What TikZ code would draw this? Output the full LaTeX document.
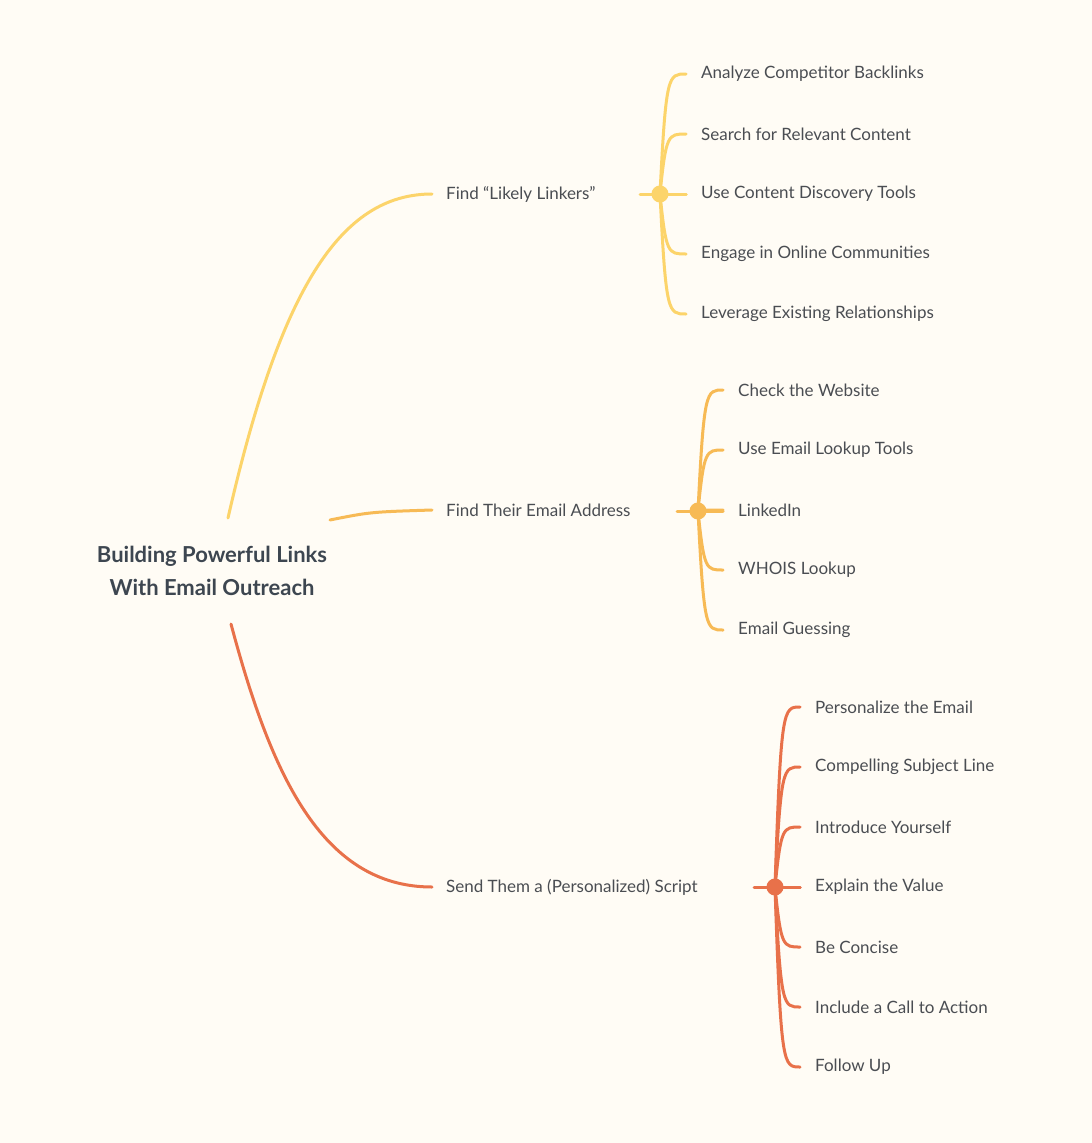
\documentclass[tikz,border=0pt]{standalone}
\usepackage{fontspec}
\setmainfont{Lato}
\definecolor{bg}{HTML}{FFFCF5}
\definecolor{cy}{HTML}{FCD46A}
\definecolor{co}{HTML}{F7BA55}
\definecolor{cr}{HTML}{E8714A}
\definecolor{tx}{HTML}{4A4D52}
\definecolor{rt}{HTML}{3D4650}
\tikzset{
 lbl/.style={anchor=west,inner sep=0pt,text=tx,font=\fontsize{17}{20}\selectfont},
 lnk/.style={line width=3pt,line cap=round},
 hub/.style={circle,draw,line width=3pt,fill=bg,minimum size=14pt,inner sep=0pt}
}
\begin{document}
\begin{tikzpicture}[x=1pt,y=-1pt]
\fill[bg] (0,0) rectangle (1092,1143);
\useasboundingbox (0,0) rectangle (1092,1143);
\node[align=center,text=rt,font=\bfseries\fontsize{22}{33}\selectfont] (root) at (212,571) {Building Powerful Links\\With Email Outreach};
\coordinate (r1) at (228,518);
\coordinate (r2) at (330,520);
\coordinate (r3) at (231,624);
% branch 1
\node[lbl] (b1) at (446,194) {Find “Likely Linkers”};
\draw[lnk,cy] (r1) .. controls (280,290) and (340,194) .. (432,194);
\coordinate (h1) at (660,194);
\draw[lnk,cy] (640,194) -- (686,194);
\foreach \y/\t [count=\i] in {74/Analyze Competitor Backlinks,134/Search for Relevant Content,194/Use Content Discovery Tools,254/Engage in Online Communities,314/Leverage Existing Relationships}{
 \node[lbl] (a\i) at (701,\y) {\t};
 \draw[lnk,cy] (h1) .. controls (666,\y) and (668,\y) .. (686,\y);
}
\node[hub,cy] at (h1) {};
% branch 2
\node[lbl] (b2) at (446,510) {Find Their Email Address};
\draw[lnk,co] (r2) .. controls (370,512) .. (432,510);
\coordinate (h2) at (698,511);
\draw[lnk,co] (677,511) -- (723,511);
\foreach \y/\t [count=\i] in {390/Check the Website,450/Use Email Lookup Tools,510/LinkedIn,570/WHOIS Lookup,630/Email Guessing}{
 \node[lbl] (c\i) at (738,\y) {\t};
 \draw[lnk,co] (h2) .. controls (704,\y) and (706,\y) .. (723,\y);
}
\node[hub,co] at (h2) {};
% branch 3
\node[lbl] (b3) at (446,887) {Send Them a (Personalized) Script};
\draw[lnk,cr] (r3) .. controls (270,770) and (320,887) .. (432,887);
\coordinate (h3) at (775,887);
\draw[lnk,cr] (754,887) -- (800,887);
\foreach \y/\t [count=\i] in {707/Personalize the Email,767/Compelling Subject Line,827/Introduce Yourself,887/Explain the Value,947/Be Concise,1007/Include a Call to Action,1067/Follow Up}{
 \node[lbl] (d\i) at (815,\y) {\t};
 \draw[lnk,cr] (h3) .. controls (781,\y) and (783,\y) .. (800,\y);
}
\node[hub,cr] at (h3) {};
\end{tikzpicture}
\end{document}
